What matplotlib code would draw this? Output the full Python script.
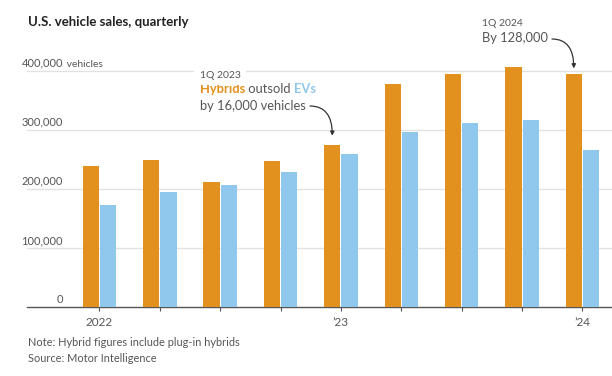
import numpy as np
import matplotlib
matplotlib.use("Agg")
import matplotlib.pyplot as plt

quarters = ["1Q22", "2Q22", "3Q22", "4Q22", "1Q23", "2Q23", "3Q23", "4Q23", "1Q24"]
hybrids = [238000, 249000, 212000, 248000, 275000, 377000, 395000, 407000, 394000]
evs = [173000, 195000, 206000, 228000, 259000, 296000, 311000, 317000, 266000]
tick_labels = {0: "2022", 4: "\u201923", 8: "\u201924"}
y_ticks = [100000, 200000, 300000, 400000]

ORANGE = "#e2901e"
BLUE = "#8fc8ec"
GREY = "#555555"

plt.rcParams["font.family"] = ["Lato", "DejaVu Sans"]

W, H = 612, 376
fig = plt.figure(figsize=(W / 100, H / 100), dpi=100)


def px(x, y):
    # pixel position from top-left -> figure fraction
    return x / W, 1 - y / H


ax = fig.add_axes([27 / W, 1 - 307 / H, 585 / W, (307 - 59) / H])
x = np.arange(len(quarters))
bw = 0.27
ax.bar(x - 0.143, hybrids, bw, color=ORANGE, zorder=3)
ax.bar(x + 0.143, evs, bw, color=BLUE, zorder=3)

ax.set_xlim(-1.2, 8.49)
ax.set_ylim(0, 420000)

for v in y_ticks:
    ax.axhline(v, color="#e2e2e2", lw=1, zorder=1)

for s in ["top", "left", "right"]:
    ax.spines[s].set_visible(False)
ax.spines["bottom"].set_color(GREY)
ax.spines["bottom"].set_linewidth(1)
ax.set_yticks([])
ax.set_xticks(x)
ax.set_xticklabels([tick_labels.get(i, "") for i in range(len(quarters))],
                   fontsize=8.5, color=GREY)
ax.tick_params(axis="x", length=3, color=GREY, pad=4)

# y labels sit above the gridlines, inside the plot
for v in [0] + y_ticks:
    ax.annotate(f"{v:,}", xy=(0, v), xycoords=("axes fraction", "data"),
                xytext=(36, 2), textcoords="offset pixels",
                ha="right", va="bottom", fontsize=8, color=GREY)
ax.annotate(" vehicles", xy=(0, 400000), xycoords=("axes fraction", "data"),
            xytext=(37, 2), textcoords="offset pixels",
            ha="left", va="bottom", fontsize=7.5, color=GREY)

fig.text(*px(28, 22), "U.S. vehicle sales, quarterly", fontsize=9.5,
         fontweight="bold", color="#222222", va="center", ha="left")

# annotation 1Q 2023
fig.text(*px(200, 75), "1Q 2023", fontsize=7.5, color=GREY, va="center",
         ha="left", bbox=dict(facecolor="white", edgecolor="none", pad=4), zorder=5)
t1 = fig.text(*px(200, 89), "Hybrids", fontsize=9.3, fontweight="bold",
              color=ORANGE, va="center", ha="left")
t2 = ax.annotate(" outsold ", xy=(1, 0), xycoords=t1, va="bottom", ha="left",
                 fontsize=9.3, color=GREY)
ax.annotate("EVs", xy=(1, 0), xycoords=t2, va="bottom", ha="left",
            fontsize=9.3, fontweight="bold", color=BLUE)
fig.text(*px(200, 106), "by 16,000 vehicles", fontsize=9.3, color=GREY,
         va="center", ha="left")
ax.annotate("", xy=(4 - 0.143, hybrids[4] + 15000), xycoords="data",
            xytext=(310, H - 106), textcoords="figure pixels",
            arrowprops=dict(arrowstyle="-|>", color="#333333", lw=0.9,
                            mutation_scale=6, shrinkA=0, shrinkB=0,
                            connectionstyle="angle3,angleA=0,angleB=90"),
            annotation_clip=False)

# annotation 1Q 2024
fig.text(*px(482, 23), "1Q 2024", fontsize=7.5, color=GREY, va="center", ha="left")
fig.text(*px(482, 38), "By 128,000", fontsize=9.3, color=GREY, va="center", ha="left")
ax.annotate("", xy=(8 - 0.143, hybrids[8] + 10000), xycoords="data",
            xytext=(552, H - 39), textcoords="figure pixels",
            arrowprops=dict(arrowstyle="-|>", color="#333333", lw=0.9,
                            mutation_scale=6, shrinkA=0, shrinkB=0,
                            connectionstyle="angle3,angleA=0,angleB=90"),
            annotation_clip=False)

fig.text(*px(28, 343), "Note: Hybrid figures include plug-in hybrids",
         fontsize=7.9, color=GREY, va="center", ha="left")
fig.text(*px(28, 359), "Source: Motor Intelligence",
         fontsize=7.9, color=GREY, va="center", ha="left")

fig.savefig("out.png", dpi=100, facecolor="white")
